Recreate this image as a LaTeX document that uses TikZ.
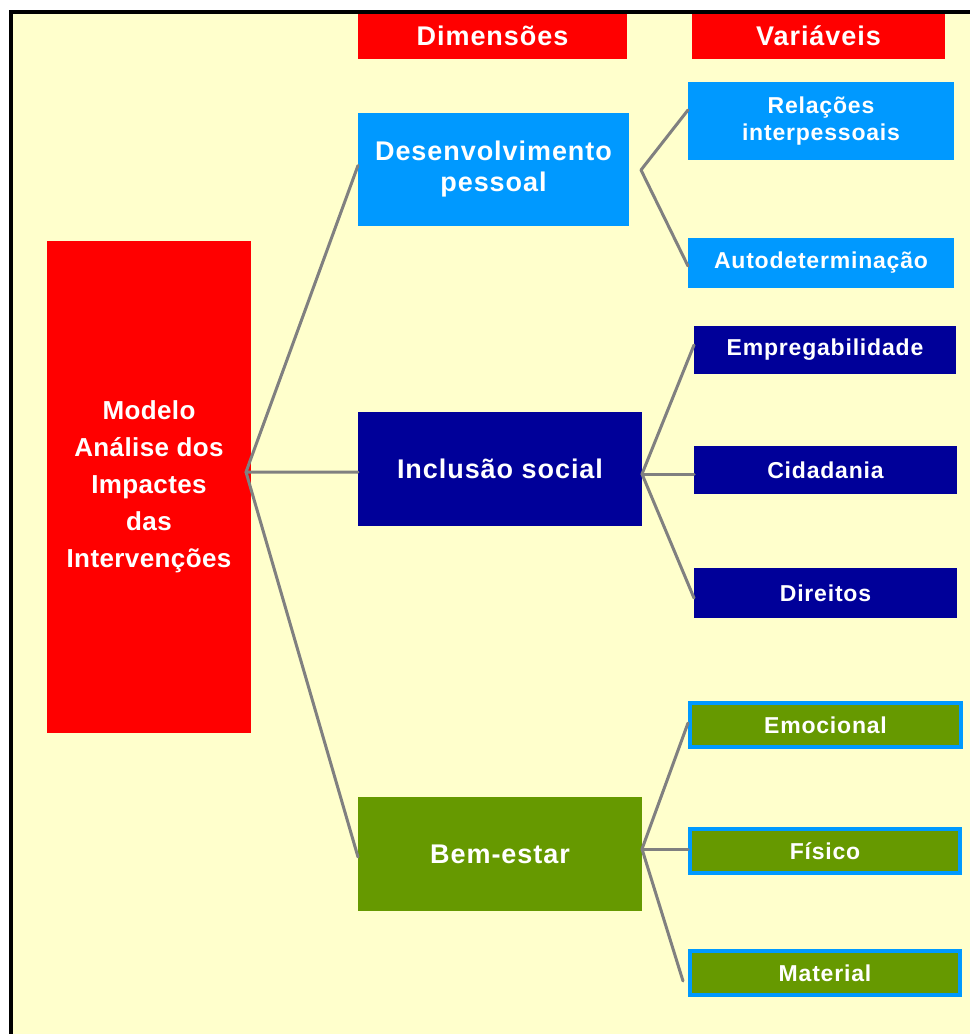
\documentclass[tikz,border=0pt]{standalone}
\usepackage{fontspec}
\setmainfont{Liberation Sans}
\newfontfamily\widefont{Liberation Sans}[LetterSpace=3.5]
\newfontfamily\modfont{Liberation Sans}[LetterSpace=1.5]
\definecolor{bgyellow}{HTML}{FFFFCC}
\definecolor{hred}{HTML}{FF0000}
\definecolor{lblue}{HTML}{0099FF}
\definecolor{navy}{HTML}{000099}
\definecolor{dgreen}{HTML}{669900}
\definecolor{conngray}{HTML}{808080}
\tikzset{
  box/.style={draw=none, inner sep=0pt, outer sep=0pt, text=white, align=center, anchor=north west},
  hdr/.style={box, fill=hred, font=\widefont\fontsize{27}{30}\selectfont\bfseries},
  dimbox/.style={box, font=\widefont\fontsize{27}{31}\selectfont\bfseries},
  leaf/.style={box, font=\widefont\fontsize{23}{27}\selectfont\bfseries},
  gleaf/.style={leaf, fill=dgreen, draw=lblue, line width=4pt},
  conn/.style={draw=conngray, line width=3pt, line cap=round, line join=round}
}
\begin{document}
\begin{tikzpicture}[x=1pt,y=-1pt]
\useasboundingbox (0,0) rectangle (970,1034);
\fill[white] (0,0) rectangle (970,1034);
\fill[bgyellow] (11,12) rectangle (970,1034);
\draw[black, line width=4pt] (11,1034) -- (11,12) -- (970,12);

% headers
\node[hdr, minimum width=269pt, minimum height=45pt] (hdim) at (358,13.5) {Dimensões};
\node[hdr, minimum width=253pt, minimum height=45pt] (hvar) at (692,13.5) {Variáveis};

% model
\node[box, fill=hred, minimum width=204pt, minimum height=492pt,
      font=\modfont\fontsize{26}{37}\selectfont\bfseries] (mod) at (47,241)
      {Modelo\\Análise dos\\Impactes\\das\\Intervenções};

% dimensions
\node[dimbox, fill=lblue, minimum width=271pt, minimum height=113pt] (des) at (358,113) {Desenvolvimento\\pessoal};
\node[dimbox, fill=navy, minimum width=284pt, minimum height=114pt] (inc) at (358,412) {Inclusão social};
\node[dimbox, fill=dgreen, minimum width=284pt, minimum height=114pt] (bem) at (358,797) {Bem-estar};

% variables
\node[leaf, fill=lblue, minimum width=266pt, minimum height=78pt] (rel) at (688,82) {Relações\\interpessoais};
\node[leaf, fill=lblue, minimum width=266pt, minimum height=50pt] (aut) at (688,238) {Autodeterminação};
\node[leaf, fill=navy, minimum width=262pt, minimum height=48pt] (emp) at (694,326) {Empregabilidade};
\node[leaf, fill=navy, minimum width=263pt, minimum height=48pt] (cid) at (694,446) {Cidadania};
\node[leaf, fill=navy, minimum width=263pt, minimum height=50pt] (dir) at (694,568) {Direitos};
\node[gleaf, minimum width=271pt, minimum height=44pt] (emo) at (690,703) {Emocional};
\node[gleaf, minimum width=270pt, minimum height=44pt] (fis) at (690,829) {Físico};
\node[gleaf, minimum width=270pt, minimum height=44pt] (mat) at (690,951) {Material};

% junctions
\coordinate (mj) at (246,472);
\coordinate (dj) at (641,170);
\coordinate (ij) at (642,474);
\coordinate (bj) at (642,849);

% connectors
\draw[conn] ([yshift=4pt]des.west) -- (mj) -- (inc.west |- mj);
\draw[conn] (mj) -- ([yshift=-3pt]bem.west);
\draw[conn] ([yshift=11pt]rel.west) -- (dj) -- ([yshift=-3pt]aut.west);
\draw[conn] ([yshift=5pt]emp.west) -- (ij) -- ([yshift=-5pt]dir.west);
\draw[conn] (ij) -- (ij -| cid.west);
\draw[conn] ([xshift=-2pt,yshift=2pt]emo.west) -- (bj) -- ([xshift=-7pt,yshift=-8pt]mat.west);
\draw[conn] (bj) -- ([xshift=-2pt]bj -| fis.west);
\end{tikzpicture}
\end{document}
